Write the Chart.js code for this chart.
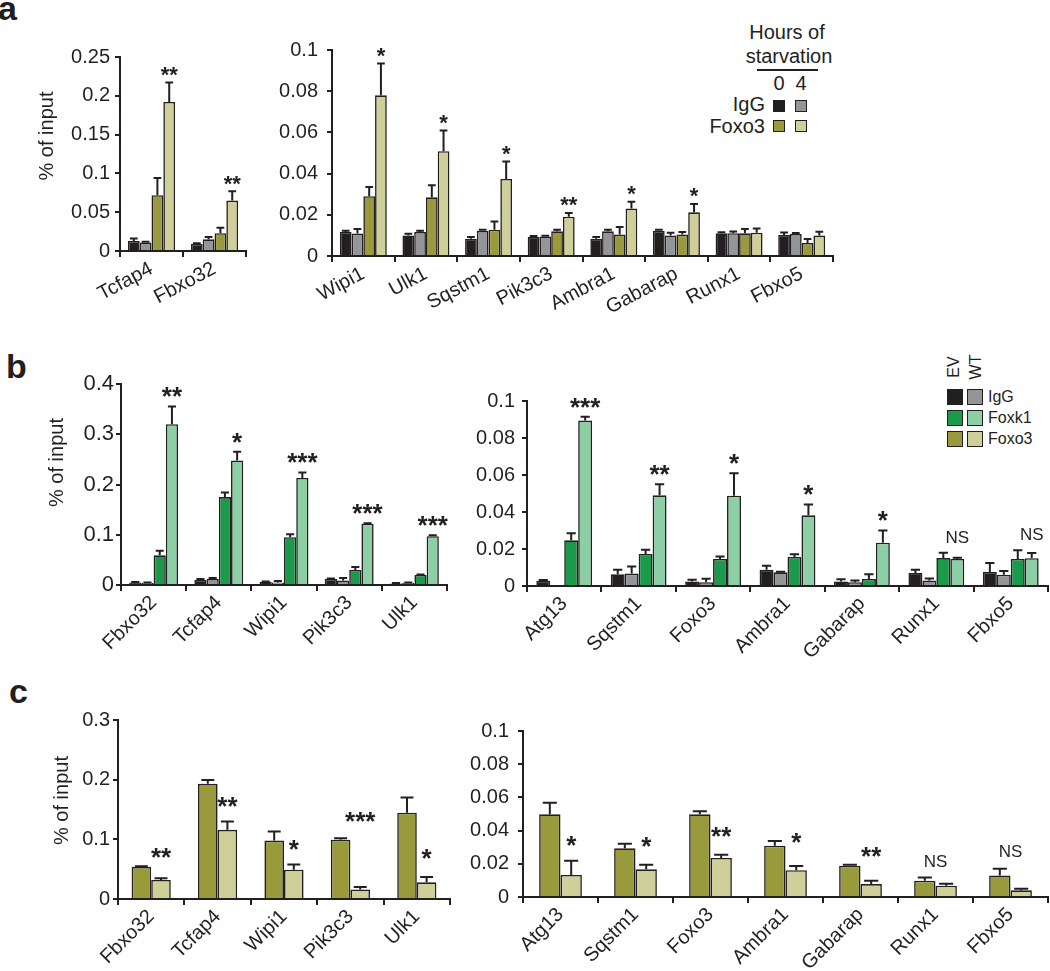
<!DOCTYPE html>
<html>
<head>
<meta charset="utf-8">
<script src="https://cdn.jsdelivr.net/npm/chart.js@4"></script>
<style>
  html, body { margin: 0; overflow: hidden; background: #fff; }
  #fig { position: relative; width: 1050px; height: 971px; font-family: 'Liberation Sans', Arial, sans-serif; color: #231f20; }
  #fig canvas { position: absolute; }
  .t { position: absolute; line-height: 1; white-space: nowrap; }
  .sq { position: absolute; box-sizing: border-box; border: 1.5px solid #231f20; }
</style>
</head>
<body>
<div id="fig">
  <div class="t" style="left:-2px;top:-9px;font-size:34px;font-weight:bold">a</div>
  <div class="t" style="left:6px;top:349px;font-size:34px;font-weight:bold">b</div>
  <div class="t" style="left:9px;top:674px;font-size:34px;font-weight:bold">c</div>

  <!-- legend a -->
  <div class="t" style="left:727px;top:22px;width:120px;text-align:center;font-size:20px">Hours of</div>
  <div class="t" style="left:729px;top:46px;width:120px;text-align:center;font-size:20px">starvation</div>
  <div style="position:absolute;left:757px;top:69px;width:61px;height:2px;background:#231f20"></div>
  <div class="t" style="left:769px;top:73px;width:20px;text-align:center;font-size:20px">0</div>
  <div class="t" style="left:791px;top:73px;width:20px;text-align:center;font-size:20px">4</div>
  <div class="t" style="left:665px;top:94px;width:100px;text-align:right;font-size:20px">IgG</div>
  <div class="t" style="left:665px;top:116px;width:100px;text-align:right;font-size:20px">Foxo3</div>
  <div class="sq" style="left:773px;top:100px;width:12px;height:12px;background:#231f20"></div>
  <div class="sq" style="left:795px;top:100px;width:12px;height:12px;background:#939598"></div>
  <div class="sq" style="left:773px;top:120px;width:12px;height:12px;background:#999a3b"></div>
  <div class="sq" style="left:795px;top:120px;width:12px;height:12px;background:#cfcf9a"></div>

  <!-- legend b -->
  <div class="t" style="left:934px;top:359px;width:40px;text-align:center;font-size:16px;transform:rotate(-90deg)">EV</div>
  <div class="t" style="left:956px;top:359px;width:40px;text-align:center;font-size:16px;transform:rotate(-90deg)">WT</div>
  <div class="sq" style="left:947px;top:389px;width:16px;height:16px;background:#231f20"></div>
  <div class="sq" style="left:967px;top:389px;width:16px;height:16px;background:#939598"></div>
  <div class="sq" style="left:947px;top:410px;width:16px;height:16px;background:#1b9a4b"></div>
  <div class="sq" style="left:967px;top:410px;width:16px;height:16px;background:#8ccfa5"></div>
  <div class="sq" style="left:947px;top:431px;width:16px;height:16px;background:#999a3b"></div>
  <div class="sq" style="left:967px;top:431px;width:16px;height:16px;background:#cfcf9a"></div>
  <div class="t" style="left:988px;top:389px;font-size:16px">IgG</div>
  <div class="t" style="left:988px;top:410px;font-size:16px">Foxk1</div>
  <div class="t" style="left:988px;top:431px;font-size:16px">Foxo3</div>
</div>

<script>
// ---- a, left: IgG / Foxo3 at 0 h and 4 h starvation ----
const aLeftGenes = ['Tcfap4', 'Fbxo32'];
const aLeftIgG0 = [0.013, 0.009];
const aLeftIgG0Err = [0.003, 0.001];
const aLeftIgG4 = [0.011, 0.015];
const aLeftIgG4Err = [0.001, 0.003];
const aLeftFoxo0 = [0.072, 0.023];
const aLeftFoxo0Err = [0.022, 0.007];
const aLeftFoxo4 = [0.192, 0.065];
const aLeftFoxo4Err = [0.025, 0.012];
const aLeftSig = ['**', '**'];
const aLeftTicks = [0, 0.05, 0.1, 0.15, 0.2, 0.25];
const aLeftTickLabels = ['0', '0.05', '0.1', '0.15', '0.2', '0.25'];

// ---- a, right ----
const aRightGenes = ['Wipi1', 'Ulk1', 'Sqstm1', 'Pik3c3', 'Ambra1', 'Gabarap', 'Runx1', 'Fbxo5'];
const aRightIgG0 = [0.0117, 0.0100, 0.0084, 0.0092, 0.0084, 0.0122, 0.0110, 0.0102];
const aRightIgG0Err = [0.0005, 0.0008, 0.0008, 0.0005, 0.0008, 0.0005, 0.0005, 0.0012];
const aRightIgG4 = [0.0109, 0.0117, 0.0122, 0.0095, 0.0120, 0.0100, 0.0111, 0.0107];
const aRightIgG4Err = [0.0022, 0.0006, 0.0006, 0.0003, 0.0007, 0.0013, 0.0008, 0.0005];
const aRightFoxo0 = [0.0290, 0.0285, 0.0128, 0.0120, 0.0104, 0.0104, 0.0110, 0.0063];
const aRightFoxo0Err = [0.0045, 0.0059, 0.0039, 0.0008, 0.0037, 0.0012, 0.0021, 0.0020];
const aRightFoxo4 = [0.0780, 0.0509, 0.0374, 0.0191, 0.0230, 0.0212, 0.0113, 0.0099];
const aRightFoxo4Err = [0.0155, 0.0100, 0.0085, 0.0018, 0.0033, 0.0041, 0.0021, 0.0019];
const aRightSig = ['*', '*', '*', '**', '*', '*', '', ''];
const aRightTicks = [0, 0.02, 0.04, 0.06, 0.08, 0.1];
const aRightTickLabels = ['0', '0.02', '0.04', '0.06', '0.08', '0.1'];

// ---- b, left: EV / WT, IgG and Foxk1 ----
const bLeftGenes = ['Fbxo32', 'Tcfap4', 'Wipi1', 'Pik3c3', 'Ulk1'];
const bLeftIgGEV = [0.005, 0.010, 0.006, 0.012, 0.003];
const bLeftIgGEVErr = [0.001, 0.002, 0.001, 0.001, 0.001];
const bLeftIgGWT = [0.004, 0.012, 0.005, 0.009, 0.004];
const bLeftIgGWTErr = [0.001, 0.002, 0.003, 0.005, 0.001];
const bLeftFoxk1EV = [0.059, 0.175, 0.095, 0.030, 0.020];
const bLeftFoxk1EVErr = [0.009, 0.009, 0.006, 0.006, 0.001];
const bLeftFoxk1WT = [0.320, 0.248, 0.213, 0.122, 0.097];
const bLeftFoxk1WTErr = [0.035, 0.017, 0.011, 0.001, 0.002];
const bLeftSig = ['**', '*', '***', '***', '***'];
const bLeftTicks = [0, 0.1, 0.2, 0.3, 0.4];
const bLeftTickLabels = ['0', '0.1', '0.2', '0.3', '0.4'];

// ---- b, right ----
const bRightGenes = ['Atg13', 'Sqstm1', 'Foxo3', 'Ambra1', 'Gabarap', 'Runx1', 'Fbxo5'];
const bRightIgGEV = [0.0029, 0.0063, 0.0025, 0.0088, 0.0025, 0.0070, 0.0076];
const bRightIgGEVErr = [0.0003, 0.0025, 0.0009, 0.0022, 0.0011, 0.0018, 0.0048];
const bRightIgGWT = [null, 0.0067, 0.0020, 0.0074, 0.0020, 0.0030, 0.0061];
const bRightIgGWTErr = [0, 0.0039, 0.0019, 0.0003, 0.0010, 0.0010, 0.0020];
const bRightFoxk1EV = [0.0247, 0.0173, 0.0146, 0.0157, 0.0038, 0.0151, 0.0146];
const bRightFoxk1EVErr = [0.0038, 0.0023, 0.0014, 0.0014, 0.0025, 0.0029, 0.0047];
const bRightFoxk1WT = [0.0894, 0.0490, 0.0488, 0.0382, 0.0234, 0.0146, 0.0150];
const bRightFoxk1WTErr = [0.0021, 0.0060, 0.0122, 0.0058, 0.0066, 0.0007, 0.0028];
const bRightSig = ['***', '**', '*', '*', '*', 'NS', 'NS'];
const bRightTicks = [0, 0.02, 0.04, 0.06, 0.08, 0.1];
const bRightTickLabels = ['0', '0.02', '0.04', '0.06', '0.08', '0.1'];

// ---- c, left: Foxo3 EV / WT ----
const cLeftGenes = ['Fbxo32', 'Tcfap4', 'Wipi1', 'Pik3c3', 'Ulk1'];
const cLeftFoxo3EV = [0.054, 0.193, 0.098, 0.0994, 0.1447];
const cLeftFoxo3EVErr = [0.001, 0.0064, 0.015, 0.0023, 0.0253];
const cLeftFoxo3WT = [0.032, 0.116, 0.049, 0.016, 0.028];
const cLeftFoxo3WTErr = [0.0026, 0.014, 0.009, 0.004, 0.009];
const cLeftSig = ['**', '**', '*', '***', '*'];
const cLeftSigAt = [0.080, 0.166, 0.094, 0.141, 0.078];
const cLeftTicks = [0, 0.1, 0.2, 0.3];
const cLeftTickLabels = ['0', '0.1', '0.2', '0.3'];

// ---- c, right ----
const cRightGenes = ['Atg13', 'Sqstm1', 'Foxo3', 'Ambra1', 'Gabarap', 'Runx1', 'Fbxo5'];
const cRightFoxo3EV = [0.0498, 0.0293, 0.0498, 0.0309, 0.0189, 0.0098, 0.0130];
const cRightFoxo3EVErr = [0.0070, 0.0028, 0.0018, 0.0028, 0.0006, 0.0020, 0.0040];
const cRightFoxo3WT = [0.0133, 0.0167, 0.0235, 0.0161, 0.0078, 0.0068, 0.0040];
const cRightFoxo3WTErr = [0.0086, 0.0028, 0.0020, 0.0026, 0.0020, 0.0012, 0.0010];
const cRightSig = ['*', '*', '**', '*', '**', 'NS', 'NS'];
const cRightSigAt = [0.035, 0.034, 0.040, 0.0366, 0.0285, 0.022, 0.028];
const cRightTicks = [0, 0.02, 0.04, 0.06, 0.08, 0.1];
const cRightTickLabels = ['0', '0.02', '0.04', '0.06', '0.08', '0.1'];

const INK = '#231f20';
const BLACK = '#231f20', GREY = '#939598';
const OLIVE = '#999a3b', PALE_OLIVE = '#cfcf9a';
const GREEN = '#1b9a4b', PALE_GREEN = '#8ccfa5';
const FONT = "'Liberation Sans', Arial, sans-serif";
const PAD_L = 100, PAD_T = 50, PAD_R = 8, PAD_B = 90;

function drawPanel(p) {
  const canvas = document.createElement('canvas');
  canvas.width = p.box.right - p.box.left + PAD_L + PAD_R;
  canvas.height = p.box.bottom - p.box.top + PAD_T + PAD_B;
  canvas.style.left = (p.box.left - PAD_L) + 'px';
  canvas.style.top = (p.box.top - PAD_T) + 'px';
  document.getElementById('fig').appendChild(canvas);

  // upward SEM bars
  const errorBars = {
    id: 'errorBars',
    afterDatasetsDraw(chart) {
      const ctx = chart.ctx, y = chart.scales.y;
      ctx.save();
      ctx.strokeStyle = INK;
      ctx.lineWidth = 2;
      p.series.forEach((s, i) => {
        chart.getDatasetMeta(i).data.forEach((bar, j) => {
          const v = s.data[j], e = s.err[j];
          if (v == null || !e) return;
          const top = y.getPixelForValue(v + e);
          const half = bar.width * 0.33;
          ctx.beginPath();
          ctx.moveTo(bar.x, bar.y);
          ctx.lineTo(bar.x, top);
          ctx.moveTo(bar.x - half, top);
          ctx.lineTo(bar.x + half, top);
          ctx.stroke();
        });
      });
      ctx.restore();
    }
  };

  // significance marks
  const sigMarks = {
    id: 'sigMarks',
    afterDatasetsDraw(chart) {
      const ctx = chart.ctx, y = chart.scales.y, x = chart.scales.x;
      const last = chart.getDatasetMeta(p.series.length - 1).data;
      ctx.save();
      ctx.fillStyle = INK;
      ctx.textAlign = 'center';
      ctx.textBaseline = 'alphabetic';
      p.sig.forEach((mark, j) => {
        if (!mark) return;
        const ns = mark === 'NS';
        const size = ns ? p.nsSize : p.starSize;
        ctx.font = ns ? `${size}px ${FONT}` : `${p.starWeight} ${size}px ${FONT}`;
        let cy;
        if (p.sigAt) {
          cy = y.getPixelForValue(p.sigAt[j]);
        } else {
          const topVal = Math.max(...p.series.map(s => (s.data[j] || 0) + s.err[j]));
          cy = y.getPixelForValue(topVal) - p.sigGap;
        }
        const cx = (ns && p.nsCentered) ? x.getPixelForValue(j) : last[j].x;
        ctx.fillText(mark, cx, cy + size * (ns ? 0.36 : 0.57));
      });
      ctx.restore();
    }
  };

  const yTitle = {
    id: 'yTitle',
    afterDraw(chart) {
      if (!p.yTitle) return;
      const a = chart.chartArea, ctx = chart.ctx;
      ctx.save();
      ctx.translate(a.left - p.yTitle.dx, (a.top + a.bottom) / 2 + p.yTitle.dy);
      ctx.rotate(-Math.PI / 2);
      ctx.font = `20px ${FONT}`;
      ctx.fillStyle = INK;
      ctx.textAlign = 'center';
      ctx.textBaseline = 'middle';
      ctx.fillText('% of input', 0, 0);
      ctx.restore();
    }
  };

  return new Chart(canvas, {
    type: 'bar',
    data: {
      labels: p.genes,
      datasets: p.series.map(s => ({
        data: s.data,
        backgroundColor: s.color,
        borderColor: INK,
        borderWidth: 1.6,
        categoryPercentage: p.catPct,
        barPercentage: 1
      }))
    },
    options: {
      responsive: false,
      animation: false,
      devicePixelRatio: 1,
      layout: { padding: { top: PAD_T, right: PAD_R, left: 0, bottom: 0 } },
      plugins: { legend: { display: false }, tooltip: { enabled: false } },
      scales: {
        x: {
          afterFit(s) { s.height = PAD_B; },
          grid: { offset: true, drawOnChartArea: false, color: INK, lineWidth: 2, tickLength: 6 },
          border: { display: true, color: INK, width: 2 },
          ticks: {
            color: INK, font: { family: FONT, size: 20 },
            minRotation: p.rot, maxRotation: p.rot, autoSkip: false, padding: 0
          }
        },
        y: {
          min: 0,
          max: p.yTicks[p.yTicks.length - 1],
          afterFit(s) { s.width = PAD_L; },
          afterBuildTicks(s) { s.ticks = p.yTicks.map(v => ({ value: v })); },
          grid: { drawOnChartArea: false, color: INK, lineWidth: 2, tickLength: 5 },
          border: { display: true, color: INK, width: 2 },
          ticks: {
            color: INK, font: { family: FONT, size: p.yFont }, padding: p.yPad,
            callback: (v, i) => p.yLabels[i]
          }
        }
      }
    },
    plugins: [errorBars, sigMarks, yTitle]
  });
}

const aStyle = { rot: 28, catPct: 0.75, yFont: 20, yPad: 5, starSize: 22, starWeight: 'bold', nsSize: 17, sigGap: 13 };
const bStyle = { rot: 45, catPct: 0.75, yFont: 20, yPad: 5, starSize: 26, starWeight: 'bold', nsSize: 17, sigGap: 16 };
const cStyle = { rot: 45, yFont: 20, yPad: 4, starSize: 26, starWeight: 'bold', nsSize: 17 };

drawPanel(Object.assign({}, aStyle, {
  box: { left: 120, right: 246, top: 57, bottom: 251 },
  genes: aLeftGenes, sig: aLeftSig, yTicks: aLeftTicks, yLabels: aLeftTickLabels,
  yTitle: { dx: 73, dy: -18 },
  series: [
    { data: aLeftIgG0, err: aLeftIgG0Err, color: BLACK },
    { data: aLeftIgG4, err: aLeftIgG4Err, color: GREY },
    { data: aLeftFoxo0, err: aLeftFoxo0Err, color: OLIVE },
    { data: aLeftFoxo4, err: aLeftFoxo4Err, color: PALE_OLIVE }
  ]
}));

drawPanel(Object.assign({}, aStyle, {
  box: { left: 332, right: 833, top: 50, bottom: 256 },
  yPad: 9,
  genes: aRightGenes, sig: aRightSig, yTicks: aRightTicks, yLabels: aRightTickLabels,
  series: [
    { data: aRightIgG0, err: aRightIgG0Err, color: BLACK },
    { data: aRightIgG4, err: aRightIgG4Err, color: GREY },
    { data: aRightFoxo0, err: aRightFoxo0Err, color: OLIVE },
    { data: aRightFoxo4, err: aRightFoxo4Err, color: PALE_OLIVE }
  ]
}));

drawPanel(Object.assign({}, bStyle, {
  box: { left: 121, right: 447, top: 384, bottom: 585 },
  yFont: 22, yPad: 2,
  genes: bLeftGenes, sig: bLeftSig, yTicks: bLeftTicks, yLabels: bLeftTickLabels,
  yTitle: { dx: 64, dy: -22 },
  series: [
    { data: bLeftIgGEV, err: bLeftIgGEVErr, color: BLACK },
    { data: bLeftIgGWT, err: bLeftIgGWTErr, color: GREY },
    { data: bLeftFoxk1EV, err: bLeftFoxk1EVErr, color: GREEN },
    { data: bLeftFoxk1WT, err: bLeftFoxk1WTErr, color: PALE_GREEN }
  ]
}));

drawPanel(Object.assign({}, bStyle, {
  box: { left: 527, right: 1048, top: 401, bottom: 586 },
  yPad: 7,
  genes: bRightGenes, sig: bRightSig, yTicks: bRightTicks, yLabels: bRightTickLabels,
  series: [
    { data: bRightIgGEV, err: bRightIgGEVErr, color: BLACK },
    { data: bRightIgGWT, err: bRightIgGWTErr, color: GREY },
    { data: bRightFoxk1EV, err: bRightFoxk1EVErr, color: GREEN },
    { data: bRightFoxk1WT, err: bRightFoxk1WTErr, color: PALE_GREEN }
  ]
}));

drawPanel(Object.assign({}, cStyle, {
  box: { left: 118, right: 450, top: 720, bottom: 899 },
  catPct: 0.59, yPad: 3,
  genes: cLeftGenes, sig: cLeftSig, sigAt: cLeftSigAt, yTicks: cLeftTicks, yLabels: cLeftTickLabels,
  yTitle: { dx: 56, dy: -9 },
  series: [
    { data: cLeftFoxo3EV, err: cLeftFoxo3EVErr, color: OLIVE },
    { data: cLeftFoxo3WT, err: cLeftFoxo3WTErr, color: PALE_OLIVE }
  ]
}));

drawPanel(Object.assign({}, cStyle, {
  box: { left: 523, right: 1048, top: 731, bottom: 897 },
  catPct: 0.57, nsCentered: true, yPad: 9,
  genes: cRightGenes, sig: cRightSig, sigAt: cRightSigAt, yTicks: cRightTicks, yLabels: cRightTickLabels,
  series: [
    { data: cRightFoxo3EV, err: cRightFoxo3EVErr, color: OLIVE },
    { data: cRightFoxo3WT, err: cRightFoxo3WTErr, color: PALE_OLIVE }
  ]
}));
</script>
</body>
</html>
